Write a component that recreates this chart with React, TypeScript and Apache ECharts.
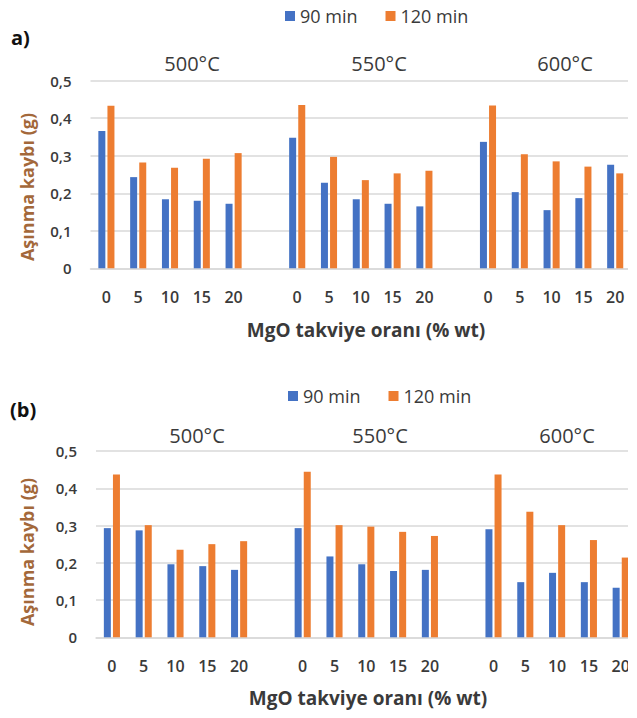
import React, { useEffect, useRef } from "react";
import * as echarts from "echarts";

// Test temperatures and MgO reinforcement ratios (% wt)
const temperatures = ["500°C", "550°C", "600°C"];
const mgoRatios = ["0", "5", "10", "15", "20"];
const seriesNames = ["90 min", "120 min"];
const yTicks = [0, 0.1, 0.2, 0.3, 0.4, 0.5];

// Panel (a): wear loss (g), one row per temperature
const lossA90 = [
  [0.366, 0.243, 0.184, 0.180, 0.172],
  [0.348, 0.228, 0.184, 0.172, 0.165],
  [0.337, 0.203, 0.155, 0.187, 0.276],
];
const lossA120 = [
  [0.433, 0.282, 0.268, 0.292, 0.307],
  [0.435, 0.297, 0.235, 0.253, 0.260],
  [0.434, 0.304, 0.285, 0.271, 0.253],
];

// Panel (b): wear loss (g), one row per temperature
const lossB90 = [
  [0.293, 0.287, 0.196, 0.191, 0.181],
  [0.293, 0.217, 0.196, 0.178, 0.181],
  [0.290, 0.148, 0.173, 0.148, 0.133],
];
const lossB120 = [
  [0.437, 0.301, 0.235, 0.250, 0.258],
  [0.444, 0.301, 0.297, 0.283, 0.272],
  [0.437, 0.337, 0.301, 0.261, 0.214],
];

const BLUE = "#4472C4";
const ORANGE = "#ED7D31";
const TEXT = "#3a3a3a";
const GRID_LINE = "#d9d9d9";
const FONT = "'Open Sans', 'Noto Sans', sans-serif";

// Category axis: the five ratios per temperature, with a blank slot between groups
const categories: string[] = [];
temperatures.forEach((_, gi) => {
  if (gi > 0) categories.push("");
  mgoRatios.forEach((r) => categories.push(r));
});

function flatten(rows: number[][]): (number | string)[] {
  const out: (number | string)[] = [];
  rows.forEach((row, gi) => {
    if (gi > 0) out.push("-");
    row.forEach((v) => out.push(v));
  });
  return out;
}

const CAT_W = 31.8;
const PLOT_W = CAT_W * categories.length;

const panels = [
  {
    left: 90.5,
    top: 80.7,
    height: 187.6,
    d90: lossA90,
    d120: lossA120,
    tag: "a)",
    tagPos: [11, 39],
    legendPos: [285, 7],
    titleY: 63,
    titleX: [192, 379, 565],
    yTitle: [27, 187],
    xTitle: [366, 330],
  },
  {
    left: 96,
    top: 451,
    height: 186.3,
    d90: lossB90,
    d120: lossB120,
    tag: "(b)",
    tagPos: [10, 411],
    legendPos: [288, 387],
    titleY: 435,
    titleX: [197, 380, 567],
    yTitle: [27, 552],
    xTitle: [368, 698],
  },
];

export default function App() {
  const ref = useRef<HTMLDivElement>(null);

  useEffect(() => {
    if (!ref.current) return;
    const chart = echarts.init(ref.current, null, { renderer: "svg" });

    const grid = panels.map((p) => ({
      left: p.left,
      top: p.top,
      width: PLOT_W,
      height: p.height,
      containLabel: false,
    }));

    const xAxis = panels.map((_, i) => ({
      type: "category" as const,
      gridIndex: i,
      data: categories,
      axisTick: { show: false },
      axisLine: { show: true, lineStyle: { color: GRID_LINE, width: 1.5 } },
      axisLabel: {
        interval: 0,
        margin: 21,
        color: TEXT,
        fontSize: 16,
        fontWeight: 600,
        fontFamily: FONT,
      },
    }));

    const yAxis = panels.map((_, i) => ({
      type: "value" as const,
      gridIndex: i,
      min: yTicks[0],
      max: yTicks[yTicks.length - 1],
      interval: 0.1,
      axisLine: { show: false },
      axisTick: { show: false },
      splitLine: { lineStyle: { color: GRID_LINE, width: 1.5 } },
      axisLabel: {
        margin: 19,
        color: TEXT,
        fontSize: 15,
        fontWeight: 600,
        fontFamily: FONT,
        formatter: (v: number) =>
          v === 0 ? "0" : v.toFixed(1).replace(".", ","),
      },
    }));

    const series: any[] = [];
    panels.forEach((p, i) => {
      series.push({
        type: "bar",
        name: seriesNames[0],
        xAxisIndex: i,
        yAxisIndex: i,
        data: flatten(p.d90),
        barWidth: 7,
        barGap: "30%",
        itemStyle: { color: BLUE },
      });
      series.push({
        type: "bar",
        name: seriesNames[1],
        xAxisIndex: i,
        yAxisIndex: i,
        data: flatten(p.d120),
        barWidth: 7,
        barGap: "30%",
        itemStyle: { color: ORANGE },
      });
    });

    const legend = panels.map((p) => ({
      data: seriesNames.map((n) => ({ name: n, icon: "rect" })),
      left: p.legendPos[0],
      top: p.legendPos[1],
      padding: 0,
      itemWidth: 10,
      itemHeight: 10,
      itemGap: 28,
      textStyle: { color: TEXT, fontSize: 18, fontWeight: 500, fontFamily: FONT },
      selectedMode: false,
    }));

    const graphic: any[] = [];
    panels.forEach((p) => {
      graphic.push({
        type: "text",
        left: p.tagPos[0],
        top: p.tagPos[1] - 12,
        style: {
          text: p.tag,
          fill: "#111",
          font: `bold 20px ${FONT}`,
        },
      });
      temperatures.forEach((t, gi) => {
        graphic.push({
          type: "text",
          x: p.titleX[gi],
          y: p.titleY,
          style: {
            text: t,
            fill: TEXT,
            font: `20px ${FONT}`,
            align: "center",
            verticalAlign: "middle",
          },
        });
      });
      graphic.push({
        type: "text",
        x: p.yTitle[0],
        y: p.yTitle[1],
        rotation: Math.PI / 2,
        style: {
          text: "Aşınma kaybı (g)",
          fill: "#a3683a",
          font: `bold 18px ${FONT}`,
          align: "center",
          verticalAlign: "middle",
        },
      });
      graphic.push({
        type: "text",
        x: p.xTitle[0],
        y: p.xTitle[1],
        style: {
          text: "MgO takviye oranı (% wt)",
          fill: TEXT,
          font: `bold 19px ${FONT}`,
          align: "center",
          verticalAlign: "middle",
        },
      });
    });
    // Right edge of the figure is trimmed
    graphic.push({
      type: "rect",
      z: 100,
      shape: { x: 628, y: 0, width: 20, height: 718 },
      style: { fill: "#ffffff" },
    });

    chart.setOption({
      animation: false,
      backgroundColor: "#ffffff",
      grid,
      xAxis,
      yAxis,
      series,
      legend,
      graphic,
    });

    return () => chart.dispose();
  }, []);

  return (
    <div
      ref={ref}
      style={{
        position: "fixed",
        left: 0,
        top: 0,
        width: 637,
        height: 718,
        background: "#fff",
      }}
    />
  );
}
